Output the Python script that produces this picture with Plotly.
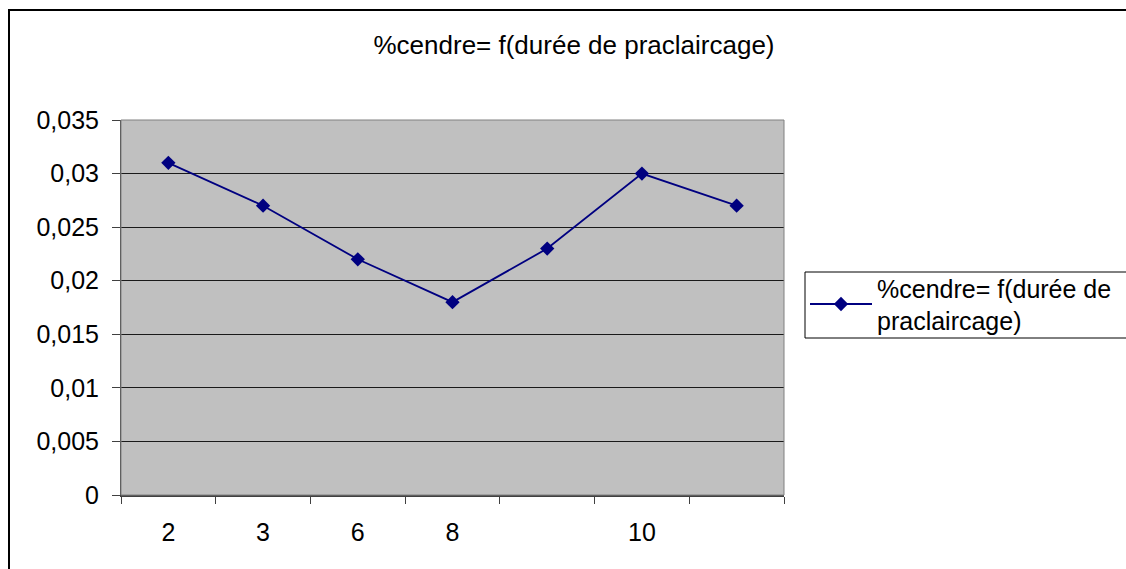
import plotly.graph_objects as go

categories = ["2", "3", "6", "8", "", "10", ""]
values = [0.031, 0.027, 0.022, 0.018, 0.023, 0.030, 0.027]
series_name = "%cendre= f(durée de<br>praclaircage)"
title_text = "%cendre= f(durée de praclaircage)"
y_ticks = [0, 0.005, 0.01, 0.015, 0.02, 0.025, 0.03, 0.035]

W, H = 1126, 569
L, R, T, B = 121, 784, 120, 495
FONT = "Liberation Sans, Arial, sans-serif"
FS = 25

xs = list(range(len(categories)))

fig = go.Figure()
fig.add_trace(go.Scatter(
    x=xs, y=values, mode="lines+markers", name=series_name,
    line=dict(color="#000080", width=1.8),
    marker=dict(symbol="diamond", size=11, color="#000080"),
    showlegend=True,
))

pw, ph = R - L, B - T
def px(x):
    return (x - L) / pw
def py(y):
    return (B - y) / ph

fig.update_layout(
    width=W, height=H,
    margin=dict(l=L, r=W - R, t=T, b=H - B, pad=0, autoexpand=False),
    paper_bgcolor="white",
    plot_bgcolor="#C0C0C0",
    separators=", ",
    font=dict(family=FONT, size=FS, color="black"),
    title=dict(text=title_text, x=574 / W, xanchor="center", y=1 - 45 / H, yanchor="middle",
               font=dict(family=FONT, size=26, color="black")),
    xaxis=dict(
        range=[-0.5, len(categories) - 0.5],
        tickmode="array", tickvals=xs, ticktext=categories,
        ticks="", showgrid=False, zeroline=False,
        showline=True, linecolor="#404040", linewidth=2,
        tickfont=dict(family=FONT, size=FS),
        ticklabelstandoff=14,
        minor=dict(tickmode="array", tickvals=[i - 0.5 for i in range(len(categories) + 1)],
                   ticks="outside", ticklen=7, tickcolor="#404040", tickwidth=1, showgrid=False),
        fixedrange=True,
    ),
    yaxis=dict(
        range=[0, 0.035],
        tickmode="array", tickvals=y_ticks,
        ticktext=[("%g" % v).replace(".", ",") for v in y_ticks],
        ticks="outside", ticklen=8, tickcolor="#404040",
        showgrid=True, gridcolor="#1a1a1a", gridwidth=1,
        zeroline=False, showline=True, linecolor="#404040", linewidth=1,
        tickfont=dict(family=FONT, size=FS),
        ticklabelstandoff=8,
        fixedrange=True,
    ),
    legend=dict(
        x=px(805), y=py(265), xanchor="left", yanchor="top",
        bgcolor="rgba(0,0,0,0)", borderwidth=0,
        font=dict(family=FONT, size=FS),
        itemwidth=62, tracegroupgap=0,
    ),
    shapes=[
        dict(type="rect", xref="paper", yref="paper",
             x0=px(L), x1=px(R), y0=py(B), y1=py(T),
             line=dict(color="#808080", width=1), layer="above"),
        dict(type="rect", xref="paper", yref="paper",
             x0=px(9), x1=px(W + 40), y0=py(H + 40), y1=py(10),
             line=dict(color="black", width=2), layer="below"),
        dict(type="rect", xref="paper", yref="paper",
             x0=px(805), x1=px(W + 40), y0=py(338), y1=py(272),
             line=dict(color="black", width=1), fillcolor="white", layer="below"),
    ],
)

fig.write_html("out.html", config={"displayModeBar": False},
               post_script="document.body.style.margin='0';document.body.style.overflow='hidden';")
